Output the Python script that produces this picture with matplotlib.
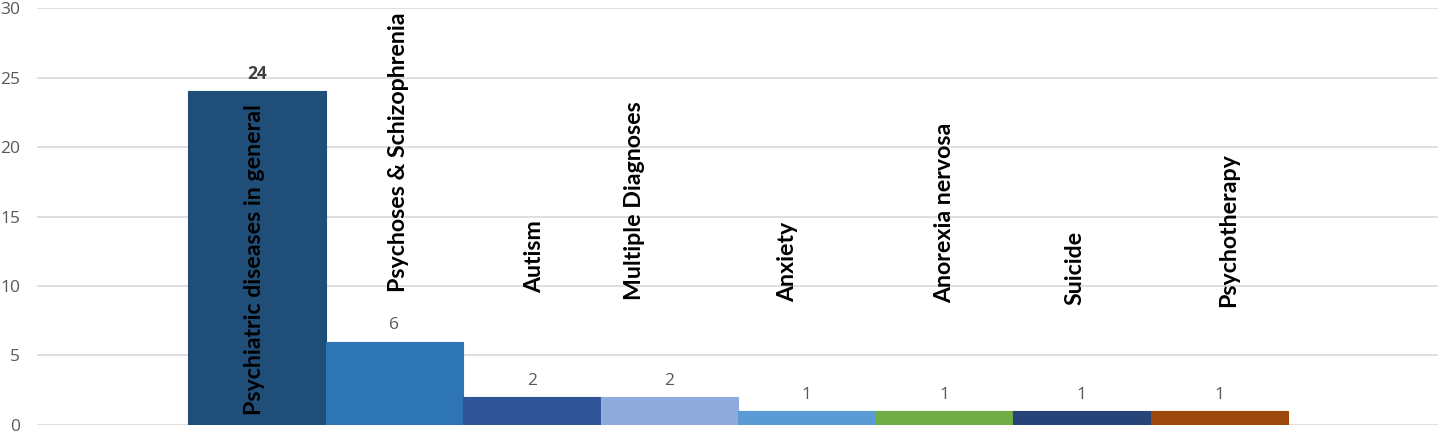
import matplotlib
matplotlib.use("Agg")
import matplotlib.pyplot as plt

categories = ["Psychiatric diseases in general", "Psychoses & Schizophrenia", "Autism",
              "Multiple Diagnoses", "Anxiety", "Anorexia nervosa", "Suicide", "Psychotherapy"]
values = [24, 6, 2, 2, 1, 1, 1, 1]
colors = ["#1f4e79", "#2e75b6", "#2f5597", "#8faadc", "#5b9bd5", "#70ad47", "#264478", "#9e480e"]
# category label anchor (bottom of rotated text, in data units) and small x shift
label_bottom = [0.7, 9.6, 9.5, 9.0, 8.85, 8.8, 8.6, 8.5]
label_dx = [-0.02, 0.03, 0.02, -0.25, -0.14, 0.0, -0.05, 0.07]

fig = plt.figure(figsize=(14.41, 4.33), dpi=100)
ax = fig.add_axes([0.0257, 0.0185, 0.9722, 0.963])

x = list(range(len(categories)))
ax.bar(x, values, width=1.0, color=colors, edgecolor=[c for c in colors], linewidth=0.8, zorder=2)

ax.set_ylim(0, 30)
ax.set_xlim(-1.598, 8.59)
ax.set_yticks([0, 5, 10, 15, 20, 25, 30])
ax.yaxis.grid(True, color="#d9d9d9", linewidth=1.2, zorder=0)
ax.set_axisbelow(True)
ax.set_xticks([])
for s in ax.spines.values():
    s.set_visible(False)
ax.tick_params(axis="y", length=0, pad=12, labelsize=12.5, labelcolor="#595959")
for t in ax.get_yticklabels():
    t.set_fontfamily("Open Sans")

for i, v in enumerate(values):
    ax.text(i, v + 0.6, str(v), ha="center", va="bottom", fontsize=12.5,
            color="#404040" if i == 0 else "#595959",
            fontweight="bold" if i == 0 else "normal", family="Open Sans", zorder=3)
    ax.text(i + label_dx[i], label_bottom[i], categories[i], rotation=90, ha="center", va="bottom",
            fontsize=16.7, fontweight="bold", color="black", family="Lato", zorder=3)

fig.savefig("out.png", dpi=100)
